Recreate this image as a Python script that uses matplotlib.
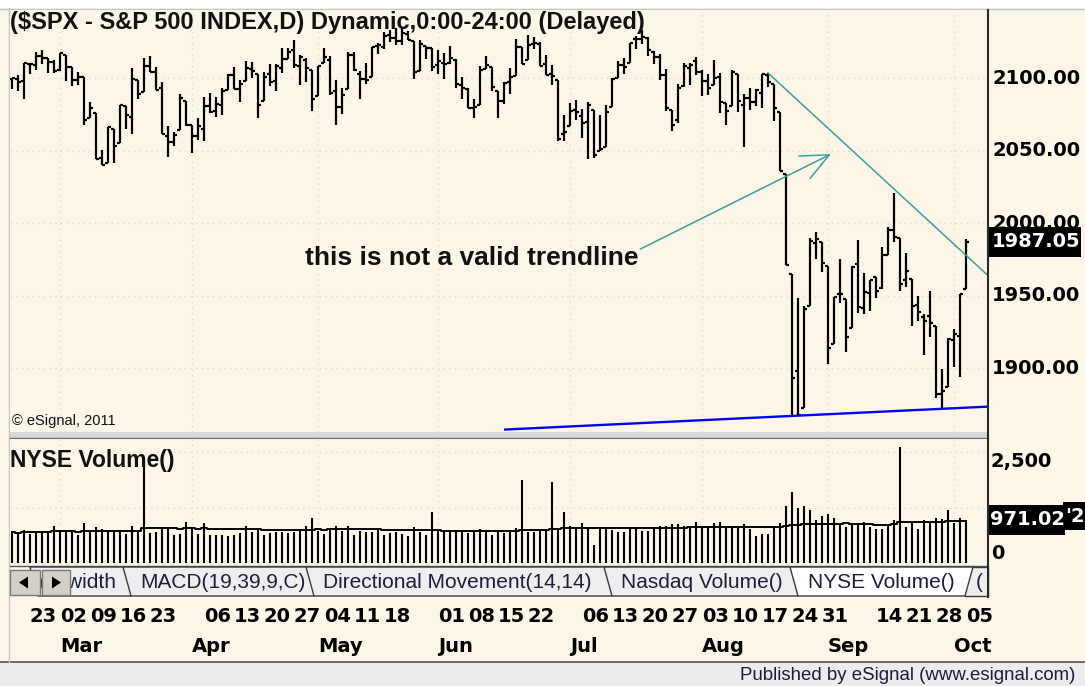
import numpy as np
import pandas as pd
import matplotlib
matplotlib.use("Agg")
import matplotlib.pyplot as plt
from matplotlib.patches import Rectangle, Polygon
from matplotlib.transforms import blended_transform_factory as blend

plt.rcParams['font.family'] = ['Liberation Sans', 'DejaVu Sans']

W, H = 1085, 686
CREAM = '#fcf6e9'
TEAL = '#3f9f9f'
GRID = '#dcd7cc'
NUMFONT = ['DejaVu Sans']

# trading days shown (Feb 17 sits just off the left edge)
holidays = ['2015-04-03', '2015-05-25', '2015-07-03', '2015-09-07']
dates = pd.bdate_range('2015-02-18', '2015-10-05')
dates = dates[~dates.isin(pd.to_datetime(holidays))]

opens = [
    2099.16, 2099.25, 2097.65, 2109.83, 2109.10, 2115.30, 2113.91, 2110.88, 2105.23, 2115.76,
    2107.72, 2098.54, 2100.91, 2072.25, 2076.14, 2044.69, 2041.10, 2064.56, 2055.35, 2080.59,
    2072.84, 2098.69, 2090.32, 2107.99, 2103.94, 2093.10, 2059.94, 2055.78, 2064.11, 2084.05,
    2067.63, 2060.03, 2064.87, 2080.79, 2076.94, 2081.29, 2091.51, 2102.03, 2092.28, 2097.82,
    2105.96, 2102.58, 2084.11, 2102.82, 2098.27, 2107.21, 2112.80, 2119.29, 2108.35, 2112.49,
    2105.52, 2087.38, 2110.23, 2112.63, 2091.26, 2079.96, 2092.13, 2115.56, 2102.87, 2099.62,
    2100.43, 2122.07, 2121.30, 2129.45, 2127.79, 2125.55, 2130.36, 2125.34, 2105.13, 2122.27,
    2120.66, 2108.64, 2110.41, 2110.64, 2112.35, 2095.09, 2092.34, 2079.07, 2081.12, 2106.24,
    2107.43, 2091.34, 2084.26, 2097.40, 2101.58, 2121.06, 2112.50, 2123.16, 2123.65, 2109.96,
    2102.62, 2098.63, 2061.19, 2067.00, 2078.03, 2073.95, 2069.52, 2077.66, 2049.73, 2052.74,
    2080.03, 2099.72, 2109.22, 2110.55, 2126.80, 2126.85, 2127.55, 2118.21, 2114.16, 2102.24,
    2078.19, 2070.75, 2094.70, 2106.78, 2111.60, 2104.49, 2097.68, 2095.27, 2100.75, 2082.61,
    2080.98, 2102.66, 2081.10, 2086.19, 2083.15, 2089.70, 2101.99, 2095.69, 2076.61, 2034.08,
    1965.15, 1898.08, 1872.75, 1942.77, 1986.06, 1986.73, 1970.09, 1916.52, 1950.79, 1947.76,
    1927.30, 1971.45, 1941.59, 1951.45, 1963.06, 1955.10, 1978.02, 1995.33, 1989.66, 1960.84,
    1961.39, 1943.24, 1935.00, 1935.93, 1929.18, 1881.90, 1887.14, 1919.65, 1921.77, 1954.33,
]
highs = [
    2100.23, 2102.13, 2110.61, 2110.05, 2117.94, 2119.59, 2113.91, 2112.74, 2117.52, 2115.76,
    2107.72, 2104.25, 2100.91, 2083.49, 2076.14, 2050.08, 2066.41, 2064.56, 2081.41, 2080.59,
    2106.85, 2098.69, 2113.92, 2114.86, 2107.63, 2097.43, 2067.15, 2062.83, 2088.97, 2084.05,
    2067.63, 2072.17, 2086.99, 2089.81, 2086.69, 2093.31, 2102.61, 2107.65, 2098.62, 2111.91,
    2111.30, 2102.58, 2103.94, 2109.64, 2109.98, 2120.49, 2120.92, 2125.92, 2116.04, 2113.65,
    2105.52, 2108.41, 2120.95, 2115.24, 2098.42, 2092.90, 2117.66, 2117.69, 2105.06, 2110.19,
    2121.45, 2123.89, 2131.78, 2133.02, 2134.72, 2134.28, 2132.15, 2125.34, 2126.22, 2122.27,
    2120.66, 2119.15, 2117.59, 2121.92, 2112.89, 2100.99, 2093.01, 2085.62, 2108.50, 2115.02,
    2107.43, 2091.34, 2097.40, 2106.79, 2126.65, 2121.64, 2129.87, 2128.03, 2125.10, 2116.04,
    2108.92, 2098.63, 2074.28, 2082.78, 2085.06, 2078.61, 2083.74, 2077.66, 2074.28, 2081.31,
    2099.88, 2111.98, 2114.14, 2124.42, 2128.91, 2132.82, 2128.48, 2118.51, 2116.87, 2106.01,
    2078.19, 2095.60, 2110.60, 2110.48, 2114.24, 2105.70, 2102.51, 2112.66, 2103.32, 2082.61,
    2105.35, 2102.66, 2089.06, 2092.93, 2092.45, 2102.87, 2103.47, 2096.17, 2076.61, 2034.08,
    1965.15, 1948.04, 1943.09, 1989.60, 1993.48, 1986.73, 1970.09, 1948.91, 1975.01, 1947.76,
    1970.42, 1988.63, 1965.29, 1961.05, 1963.06, 1983.19, 1997.26, 2020.86, 1989.66, 1979.64,
    1961.39, 1949.52, 1937.17, 1952.89, 1929.18, 1899.48, 1920.53, 1927.21, 1951.36, 1989.17,
]
lows = [
    2092.15, 2090.79, 2085.44, 2103.00, 2105.87, 2109.89, 2103.76, 2103.75, 2104.50, 2098.26,
    2094.49, 2095.22, 2067.27, 2072.21, 2044.16, 2039.69, 2041.10, 2041.17, 2055.35, 2065.08,
    2061.23, 2085.56, 2090.32, 2104.42, 2091.50, 2061.05, 2045.50, 2052.96, 2064.11, 2067.04,
    2048.38, 2057.32, 2056.52, 2076.10, 2073.30, 2074.29, 2091.51, 2092.33, 2083.24, 2097.82,
    2100.02, 2072.37, 2084.11, 2094.38, 2091.05, 2103.19, 2112.80, 2107.04, 2094.89, 2097.41,
    2077.59, 2087.38, 2110.23, 2088.46, 2067.93, 2074.99, 2092.13, 2104.58, 2085.57, 2096.04,
    2100.43, 2116.81, 2120.01, 2124.50, 2122.59, 2122.95, 2126.06, 2099.18, 2105.13, 2112.86,
    2104.89, 2102.54, 2099.14, 2109.61, 2093.23, 2085.67, 2079.11, 2072.14, 2081.12, 2106.24,
    2091.33, 2072.49, 2082.10, 2088.86, 2101.58, 2109.45, 2112.50, 2119.89, 2108.58, 2101.78,
    2095.38, 2056.64, 2056.32, 2067.00, 2071.02, 2058.40, 2044.02, 2044.66, 2049.73, 2052.74,
    2080.03, 2099.72, 2102.49, 2110.55, 2119.88, 2123.66, 2115.40, 2110.00, 2098.63, 2077.09,
    2063.52, 2069.09, 2094.08, 2094.97, 2102.07, 2087.31, 2088.60, 2095.27, 2075.53, 2067.91,
    2080.98, 2076.49, 2052.09, 2078.26, 2080.61, 2079.30, 2094.14, 2070.53, 2035.73, 1970.89,
    1867.01, 1867.08, 1872.75, 1942.77, 1975.19, 1965.98, 1903.07, 1916.52, 1944.72, 1911.21,
    1927.30, 1937.88, 1937.19, 1939.19, 1948.27, 1954.30, 1977.93, 1986.73, 1953.45, 1955.80,
    1929.22, 1932.57, 1908.92, 1921.50, 1879.21, 1871.91, 1887.14, 1900.70, 1893.70, 1954.33,
]
closes = [
    2099.68, 2097.45, 2110.30, 2109.66, 2115.48, 2113.86, 2110.74, 2104.50, 2117.39, 2107.78,
    2098.53, 2101.04, 2071.26, 2079.43, 2044.16, 2040.24, 2065.95, 2053.40, 2081.19, 2074.28,
    2099.50, 2089.27, 2108.10, 2104.42, 2091.50, 2061.05, 2056.15, 2061.02, 2086.24, 2067.89,
    2059.69, 2066.96, 2080.62, 2076.33, 2081.90, 2091.18, 2102.06, 2092.43, 2095.84, 2106.63,
    2104.99, 2081.18, 2100.40, 2097.29, 2107.96, 2112.93, 2117.69, 2108.92, 2114.76, 2106.85,
    2085.51, 2108.29, 2114.49, 2089.46, 2080.15, 2088.00, 2116.10, 2105.33, 2099.12, 2098.48,
    2121.10, 2122.73, 2129.20, 2127.83, 2125.85, 2130.82, 2126.06, 2104.20, 2123.48, 2120.79,
    2107.39, 2111.73, 2109.60, 2114.07, 2095.84, 2092.83, 2079.28, 2080.15, 2105.20, 2108.86,
    2094.11, 2084.43, 2096.29, 2100.44, 2121.24, 2109.99, 2122.85, 2124.20, 2108.58, 2102.31,
    2101.49, 2057.64, 2063.11, 2077.42, 2076.78, 2068.76, 2081.34, 2046.68, 2051.31, 2076.62,
    2099.60, 2108.95, 2107.40, 2124.29, 2126.64, 2128.28, 2119.21, 2114.15, 2102.15, 2079.65,
    2067.64, 2093.25, 2108.57, 2108.63, 2103.84, 2098.04, 2093.32, 2099.84, 2083.56, 2077.57,
    2104.18, 2084.07, 2086.05, 2083.39, 2091.54, 2102.44, 2096.92, 2079.61, 2035.73, 1970.89,
    1893.21, 1867.61, 1940.51, 1987.66, 1988.87, 1972.18, 1913.85, 1948.86, 1951.13, 1921.22,
    1969.41, 1942.04, 1952.29, 1961.05, 1953.03, 1978.09, 1995.31, 1990.20, 1958.03, 1966.97,
    1942.74, 1938.76, 1932.24, 1931.34, 1881.77, 1884.09, 1920.03, 1923.82, 1951.36, 1987.05,
]
# NYSE volume (millions)
volume = [
    700, 660, 740, 650, 700, 690, 720, 830, 720, 740,
    700, 630, 890, 720, 800, 760, 720, 740, 690, 660,
    830, 700, 2245, 680, 700, 760, 760, 640, 650, 930,
    760, 650, 890, 620, 640, 630, 610, 640, 680, 830,
    690, 760, 640, 670, 690, 700, 680, 700, 720, 830,
    1006, 720, 660, 740, 830, 720, 840, 640, 720, 690,
    700, 740, 640, 680, 700, 650, 600, 804, 700, 640,
    1155, 720, 700, 720, 740, 700, 680, 700, 760, 740,
    620, 720, 680, 700, 781, 1869, 700, 690, 743, 720,
    1832, 758, 1155, 833, 804, 908, 818, 405, 758, 758,
    743, 705, 705, 818, 818, 728, 728, 804, 833, 833,
    878, 878, 833, 781, 930, 781, 781, 893, 930, 781,
    833, 781, 878, 758, 608, 653, 653, 781, 893, 1291,
    1606, 1231, 1291, 1194, 968, 1059, 1104, 1006, 893, 804,
    856, 856, 930, 804, 758, 758, 856, 968, 2605, 804,
    893, 758, 968, 908, 1021, 983, 1194, 908, 1006, 971,
]

week_labels = ['2015-02-23', '2015-03-02', '2015-03-09', '2015-03-16', '2015-03-23',
               '2015-04-06', '2015-04-13', '2015-04-20', '2015-04-27', '2015-05-04',
               '2015-05-11', '2015-05-18', '2015-06-01', '2015-06-08', '2015-06-15',
               '2015-06-22', '2015-07-06', '2015-07-13', '2015-07-20', '2015-07-27',
               '2015-08-03', '2015-08-10', '2015-08-17', '2015-08-24', '2015-08-31',
               '2015-09-14', '2015-09-21', '2015-09-28', '2015-10-05']
price_ticks = [1900, 1950, 2000, 2050, 2100]
vol_grid = [1250, 2500]

# hand-drawn lines: start bar index / price, price at the right edge
resist_start, resist_p0, resist_p1 = '2015-08-18', 2103.5, 1963.8
support_x0, support_p0, support_p1 = 83.2, 1857.6, 1873.4

pos = {d: i + 1 for i, d in enumerate(dates)}
x = np.arange(1, len(dates) + 1)
XMAX = 163.667

month_first = dates.to_series().groupby(dates.to_period('M')).first().iloc[1:]

fig = plt.figure(figsize=(W / 100, H / 100), dpi=100, facecolor=CREAM)


def frac(x0, y0, x1, y1):
    return [x0 / W, 1 - y1 / H, (x1 - x0) / W, (y1 - y0) / H]


bg = fig.add_axes([0, 0, 1, 1], zorder=0, label='bg')
bg.set_xlim(0, W); bg.set_ylim(H, 0); bg.axis('off')
ax = fig.add_axes(frac(10, 10, 988, 432), zorder=1, label='price')
axv = fig.add_axes(frac(10, 439, 988, 564), zorder=1, label='vol')
fg = fig.add_axes([0, 0, 1, 1], zorder=2, label='fg')
fg.set_xlim(0, W); fg.set_ylim(H, 0); fg.axis('off')

# window frame
bg.add_patch(Rectangle((0, 0), W, 8, fc='white', ec='none'))
bg.add_patch(Rectangle((0, 662), W, 24, fc='#ececec', ec='none'))
bg.plot([0, W], [662, 662], color='#555555', lw=1.2)
bg.plot([0, W], [8.5, 8.5], color='#c4c4c4', lw=1)
bg.plot([9, 9], [8, 662], color='#c8c8c8', lw=1)
bg.add_patch(Rectangle((10, 432), 978, 6, fc='#d9d9d9', ec='none'))
bg.plot([10, 988], [438, 438], color='#707070', lw=1)

for a in (ax, axv):
    a.set_facecolor(CREAM)
    for s in a.spines.values():
        s.set_visible(False)
    a.set_xticks([]); a.set_yticks([])
    a.set_xlim(0.667, XMAX)
    for m in month_first:
        a.axvline(pos[m], color=GRID, lw=0.9, ls=(0, (1, 3.5)), zorder=0)

ax.set_ylim(1855.9, 2146.9)
axv.set_ylim(-22.5, 2793)
for p in price_ticks:
    ax.axhline(p, color=GRID, lw=0.9, ls=(0, (1, 3.5)), zorder=0)
for v in vol_grid:
    axv.axhline(v, color=GRID, lw=0.9, ls=(0, (1, 3.5)), zorder=0)

# OHLC bars
ax.vlines(x, lows, highs, color='black', lw=1.6)
ax.hlines(opens, x - 0.45, x, color='black', lw=1.6)
ax.hlines(closes, x, x + 0.45, color='black', lw=1.6)

# trendlines
ax.plot([pos[pd.Timestamp(resist_start)], XMAX], [resist_p0, resist_p1], color=TEAL, lw=1.1)
ax.plot([support_x0, XMAX], [support_p0, support_p1], color='#0000ff', lw=1.7)

ax.annotate('', xy=(137.5, 2047.6), xytext=(105.7, 1982),
            arrowprops=dict(arrowstyle='->,head_length=2.0,head_width=0.9', color=TEAL,
                            lw=1.1, shrinkA=0, shrinkB=0, mutation_scale=10))
ax.text(49.8, 1976, 'this is not a valid trendline', fontsize=19, weight='bold',
        va='center', ha='left', color='#111111')

# volume
axv.vlines(x, 0, volume, color='black', lw=1.5)
avg = pd.Series(volume).rolling(50, min_periods=1).mean()
axv.step(x, avg, where='mid', color='black', lw=1.4)

# texts and labels
fg.text(10, 22, '($SPX - S&P 500 INDEX,D) Dynamic,0:00-24:00 (Delayed)', fontsize=17,
        weight='bold', va='center', ha='left', color='#111111')
fg.text(12, 421, '\u00a9 eSignal, 2011', fontsize=10.5, va='center', color='#111111')
fg.text(10, 461, 'NYSE Volume()', fontsize=16.5, weight='bold', va='center', color='#111111')

tpy = blend(fg.transData, ax.transData)
for p in price_ticks:
    fg.text(992, p, f'{p:.2f}', transform=tpy, family=NUMFONT, fontsize=14, weight='bold',
            va='center', ha='left', color='black')
fg.add_patch(Rectangle((989, closes[-1] - 10.3), 92, 20.6, transform=tpy, fc='black', ec='none'))
fg.text(992, closes[-1], f'{closes[-1]:.2f}', transform=tpy, family=NUMFONT, fontsize=14,
        weight='bold', va='center', ha='left', color='white')

tvy = blend(fg.transData, axv.transData)
fg.text(991, 2500, '2,500', transform=tvy, family=NUMFONT, fontsize=14, weight='bold',
        va='top', ha='left')
fg.text(991, 0, '0', transform=tvy, family=NUMFONT, fontsize=14, weight='bold',
        va='bottom', ha='left')
fg.add_patch(Rectangle((1063, 502), 22, 28, fc='black', ec='none'))
fg.text(1065, 517, "'2", family=NUMFONT, fontsize=14, weight='bold', va='center', color='white')
fg.add_patch(Rectangle((988, volume[-1] - 338), 77, 676, transform=tvy, fc='black', ec='none'))
fg.text(990, volume[-1], '971.02', transform=tvy, family=NUMFONT, fontsize=14, weight='bold',
        va='center', ha='left', color='white')

# frame lines
fg.plot([988, 988], [10, 597], color='#2a2a2a', lw=1.5, zorder=6)
fg.plot([10, 988], [565.5, 565.5], color='#555555', lw=1)

# study tabs
tabs = [('Bandwidth', 30, 139), ('MACD(19,39,9,C)', 123, 322),
        ('Directional Movement(14,14)', 306, 620), ('Nasdaq Volume()', 604, 806)]
ty0, ty1 = 567, 596
z = 3
for name, a0, b0 in tabs:
    fg.add_patch(Polygon([(a0, ty0), (b0, ty0), (b0 - 8, ty1), (a0 + 8, ty1)],
                         closed=True, fc='#eeeeee', ec='#3a3a3a', lw=1, zorder=z))
    if name == 'Bandwidth':
        fg.text(116, 582, name, fontsize=15, va='center', ha='right', color='#1e1e3c', zorder=z)
    else:
        fg.text(a0 + 17, 582, name, fontsize=15, va='center', ha='left', color='#1e1e3c', zorder=z)
    z += 0.1
fg.add_patch(Polygon([(957, ty0), (988, ty0), (988, ty1), (965, ty1)],
                     closed=True, fc='#eeeeee', ec='#3a3a3a', lw=1, zorder=4))
fg.text(976, 582, '(', fontsize=15, va='center', ha='left', color='#1e1e3c', zorder=4)
fg.add_patch(Polygon([(790, ty0), (973, ty0), (965, ty1), (798, ty1)],
                     closed=True, fc='white', ec='#3a3a3a', lw=1, zorder=4.5))
fg.text(808, 582, 'NYSE Volume()', fontsize=15, va='center', ha='left', color='#1e1e3c',
        zorder=4.5)

# scroll buttons
for bx, bw, pts in [(10, 30, [(19, 582.5), (28, 576.5), (28, 588.5)]),
                    (42, 28, [(61, 582.5), (52, 576.5), (52, 588.5)])]:
    fg.add_patch(Rectangle((bx, 570), bw, 25, fc='#d4d0c8', ec='#7a7a7a', lw=1, zorder=5))
    fg.add_patch(Polygon(pts, closed=True, fc='black', ec='none', zorder=5.5))

# date axis
txd = blend(ax.transData, fg.transData)
for d in week_labels:
    fg.text(pos[pd.Timestamp(d)], 617, pd.Timestamp(d).strftime('%d'), transform=txd,
            family=NUMFONT, fontsize=14, weight='bold', va='center', ha='left')
for m in month_first:
    fg.text(pos[m], 646, m.strftime('%b'), transform=txd, family=NUMFONT, fontsize=14,
            weight='bold', va='center', ha='left')

fg.text(1075, 675, 'Published by eSignal (www.esignal.com)', fontsize=13.4, va='center',
        ha='right', color='#1c1c3c')

fig.savefig('out.png', dpi=100, facecolor=CREAM)
